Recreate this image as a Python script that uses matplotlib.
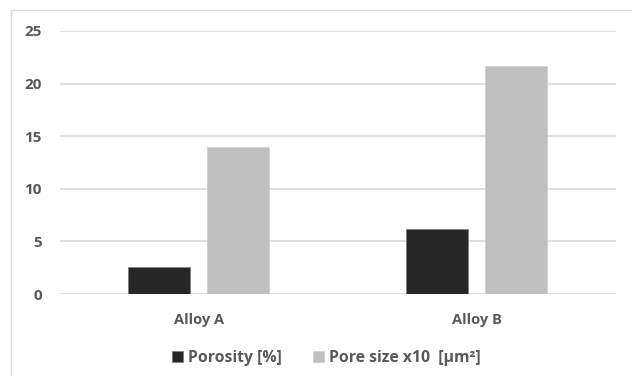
import numpy as np
import matplotlib.pyplot as plt
from matplotlib.patches import Rectangle

# chart data
categories = ["Alloy A", "Alloy B"]
porosity = [2.6, 6.2]
pore_size = [14.0, 21.7]
series_names = ["Porosity [%]", "Pore size x10  [\u00b5m\u00b2]"]
y_ticks = [0, 5, 10, 15, 20, 25]

plt.rcParams['font.family'] = ['Open Sans', 'DejaVu Sans']

fig = plt.figure(figsize=(6.32, 3.76), dpi=100)
ax = fig.add_axes([0.0945, 0.218, 0.8795, 0.6996])

# light frame round the chart area
fig.patches.append(Rectangle((11 / 632, -0.1), 1.2, 1 - 10 / 376 + 0.1,
                             transform=fig.transFigure, fill=False,
                             edgecolor='#d9d9d9', linewidth=1))

x = np.arange(len(categories))
w = 0.223
off = 0.142
ax.bar(x - off, porosity, w, color='#262626', edgecolor='#7f7f7f',
       linewidth=0.6, label=series_names[0], zorder=3)
ax.bar(x + off, pore_size, w, color='#bfbfbf', edgecolor='#d0d0d0',
       linewidth=0.6, label=series_names[1], zorder=3)

ax.set_xlim(-0.5, 1.5)
ax.set_ylim(0, 25)
ax.set_yticks(y_ticks)
ax.set_xticks(x)
ax.set_xticklabels(categories)
ax.yaxis.grid(True, color='#d9d9d9', linewidth=1.2, zorder=0)
for s in ax.spines.values():
    s.set_visible(False)
ax.tick_params(axis='both', length=0, labelcolor='#595959', labelsize=10.5)
ax.tick_params(axis='y', pad=13, labelsize=11)
ax.tick_params(axis='x', pad=14)
for lab in ax.get_xticklabels() + ax.get_yticklabels():
    lab.set_fontweight('bold')

leg = fig.legend(loc='center', bbox_to_anchor=(0.516, 0.048), ncol=2,
                 frameon=False, handlelength=0.7, handleheight=0.7,
                 handletextpad=0.3, columnspacing=2.0,
                 prop={'size': 11.3, 'weight': 'bold'})
for t in leg.get_texts():
    t.set_color('#595959')

fig.savefig("out.png", dpi=100)
